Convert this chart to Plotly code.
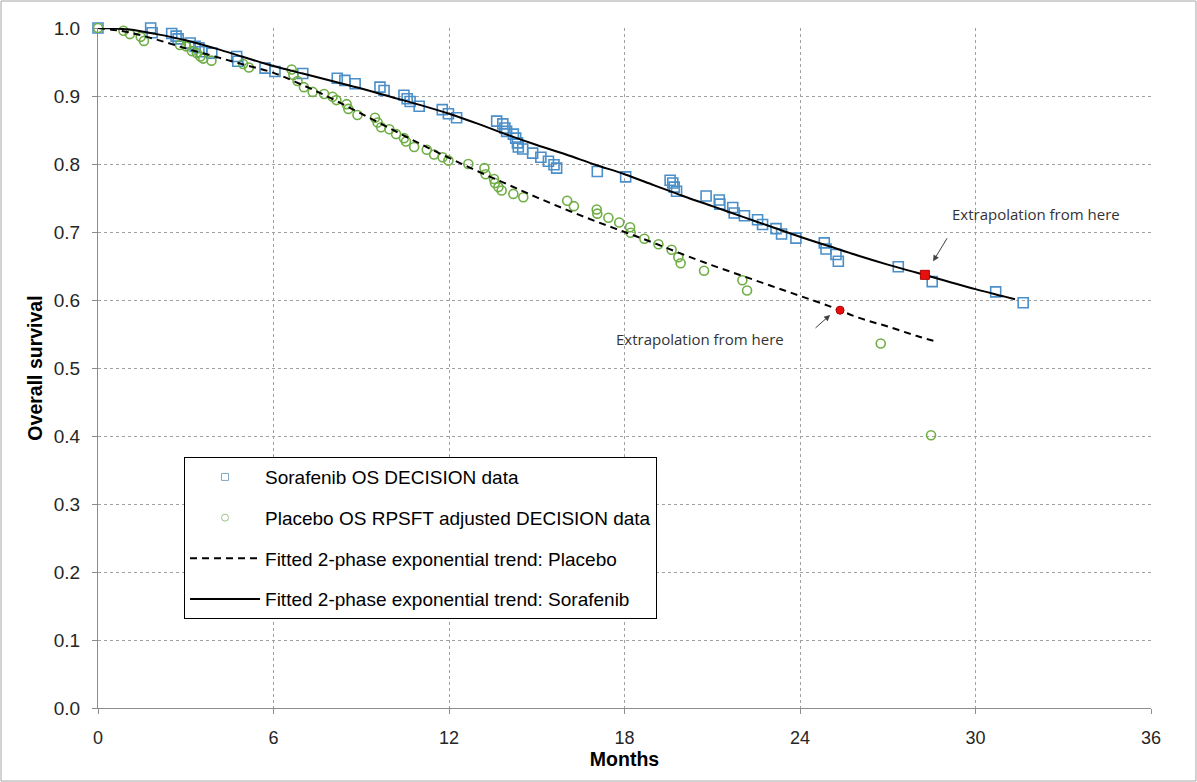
import plotly.graph_objects as go

# Observed overall survival, Sorafenib arm (months, proportion alive)
sor_months = [0.0, 1.80, 1.85, 2.52, 2.67, 2.74, 3.15, 3.32, 3.45, 3.55, 3.89, 4.74, 4.78,
              5.71, 6.05, 7.00, 8.18, 8.44, 8.79, 9.64, 9.78, 10.46, 10.57, 10.67, 10.98,
              11.77, 11.98, 12.26, 13.63, 13.84, 13.91, 13.97, 14.20, 14.28, 14.34, 14.37,
              14.52, 14.86, 15.14, 15.40, 15.59, 15.68, 17.07, 18.04, 19.56, 19.65, 19.70,
              19.78, 20.79, 21.24, 21.26, 21.70, 21.75, 22.10, 22.55, 22.72, 23.18, 23.37,
              23.86, 24.83, 24.89, 25.23, 25.31, 27.36, 28.52, 30.69, 31.63]
sor_surv = [1.000, 1.000, 0.993, 0.992, 0.988, 0.984, 0.978, 0.973, 0.971, 0.965, 0.963, 0.958,
            0.951, 0.941, 0.936, 0.933, 0.926, 0.923, 0.918, 0.913, 0.908, 0.901, 0.896, 0.892,
            0.885, 0.880, 0.874, 0.868, 0.863, 0.859, 0.853, 0.848, 0.844, 0.838, 0.831, 0.825,
            0.822, 0.816, 0.810, 0.804, 0.799, 0.794, 0.789, 0.781, 0.776, 0.772, 0.766, 0.760,
            0.753, 0.747, 0.741, 0.736, 0.728, 0.724, 0.718, 0.711, 0.705, 0.697, 0.691, 0.684,
            0.675, 0.667, 0.657, 0.649, 0.627, 0.612, 0.596]

# Observed overall survival, Placebo arm (RPSFT adjusted)
pla_months = [0.0, 0.87, 1.09, 1.46, 1.57, 2.80, 3.01, 3.21, 3.38, 3.50, 3.60, 3.88, 4.96,
              5.16, 6.62, 6.68, 6.82, 7.04, 7.34, 7.73, 8.02, 8.15, 8.50, 8.56, 8.87, 9.47,
              9.56, 9.68, 9.96, 10.19, 10.46, 10.53, 10.81, 11.24, 11.49, 11.78, 11.98, 12.66,
              13.21, 13.25, 13.54, 13.57, 13.69, 13.80, 14.20, 14.54, 16.04, 16.27, 17.05,
              17.07, 17.45, 17.82, 18.19, 18.21, 18.68, 19.16, 19.61, 19.84, 19.92, 20.72,
              22.03, 22.19, 26.76, 28.48]
pla_surv = [1.000, 0.996, 0.991, 0.987, 0.981, 0.975, 0.973, 0.966, 0.963, 0.958, 0.955, 0.952,
            0.947, 0.942, 0.939, 0.931, 0.922, 0.913, 0.906, 0.903, 0.899, 0.894, 0.888, 0.881,
            0.872, 0.868, 0.861, 0.854, 0.851, 0.844, 0.838, 0.833, 0.825, 0.821, 0.814, 0.810,
            0.805, 0.800, 0.794, 0.785, 0.778, 0.772, 0.766, 0.761, 0.756, 0.751, 0.746, 0.738,
            0.733, 0.727, 0.721, 0.714, 0.707, 0.699, 0.690, 0.682, 0.674, 0.663, 0.654, 0.643,
            0.629, 0.614, 0.536, 0.401]

# Fitted 2-phase exponential trends
sor_fit_months = [0, 1, 2, 3, 4, 5, 6, 7, 8, 9, 10, 11, 12, 13, 14, 15, 16, 17, 18, 19, 20,
                  21, 22, 23, 24, 25, 26, 27, 28, 29, 30, 31, 31.35]
sor_fit_surv = [1.000, 0.998, 0.991, 0.982, 0.970, 0.957, 0.944, 0.933, 0.922, 0.911, 0.899,
                0.887, 0.874, 0.859, 0.843, 0.828, 0.814, 0.799, 0.785, 0.769, 0.753, 0.738,
                0.723, 0.708, 0.693, 0.679, 0.665, 0.652, 0.640, 0.628, 0.616, 0.605, 0.601]

pla_fit_months = [0, 1, 2, 3, 4, 5, 6, 7, 8, 9, 10, 11, 12, 13, 14, 15, 16, 17, 18, 19, 20,
                  21, 22, 23, 24, 25, 26, 27, 28, 28.56]
pla_fit_surv = [1.000, 0.994, 0.983, 0.970, 0.958, 0.946, 0.934, 0.916, 0.896, 0.874, 0.852,
                0.830, 0.809, 0.789, 0.770, 0.751, 0.733, 0.716, 0.700, 0.684, 0.667, 0.651,
                0.636, 0.621, 0.606, 0.591, 0.574, 0.561, 0.547, 0.540]

# Points where extrapolation begins
sor_extrap_month, sor_extrap_surv = [28.27], [0.637]
pla_extrap_month, pla_extrap_surv = [25.37], [0.585]

x_ticks = [0, 6, 12, 18, 24, 30, 36]
y_ticks = [0.0, 0.1, 0.2, 0.3, 0.4, 0.5, 0.6, 0.7, 0.8, 0.9, 1.0]

BLUE = "#4A8FC9"
GREEN = "#6FAE45"
RED = "#E8100F"

fig = go.Figure()

# Data and fitted curves (legend entries are supplied by the key traces below)
fig.add_trace(go.Scatter(
    x=sor_months, y=sor_surv, mode="markers", showlegend=False, cliponaxis=False,
    marker=dict(symbol="square-open", size=10, color=BLUE, line=dict(width=1.6, color=BLUE)),
))
fig.add_trace(go.Scatter(
    x=pla_months, y=pla_surv, mode="markers", showlegend=False, cliponaxis=False,
    marker=dict(symbol="circle-open", size=9, color=GREEN, line=dict(width=1.6, color=GREEN)),
))
fig.add_trace(go.Scatter(
    x=pla_fit_months, y=pla_fit_surv, mode="lines", showlegend=False,
    line=dict(color="black", width=2, dash="7px,5px", shape="spline"),
))
fig.add_trace(go.Scatter(
    x=sor_fit_months, y=sor_fit_surv, mode="lines", showlegend=False,
    line=dict(color="black", width=2, shape="spline"),
))
fig.add_trace(go.Scatter(
    x=sor_extrap_month, y=sor_extrap_surv, mode="markers", showlegend=False,
    marker=dict(symbol="square", size=9, color=RED, line=dict(width=1, color="#B00000")),
))
fig.add_trace(go.Scatter(
    x=pla_extrap_month, y=pla_extrap_surv, mode="markers", showlegend=False,
    marker=dict(symbol="circle", size=8, color=RED, line=dict(width=1, color="#B00000")),
))

# Legend keys with small symbols
fig.add_trace(go.Scatter(
    x=[None], y=[None], mode="markers", name="Sorafenib OS DECISION data", legendgroup="a",
    marker=dict(symbol="square-open", size=7, color="#7FA7C4", line=dict(width=1, color="#7FA7C4")),
))
fig.add_trace(go.Scatter(
    x=[None], y=[None], mode="markers", name="Placebo OS RPSFT adjusted DECISION data",
    legendgroup="b",
    marker=dict(symbol="circle-open", size=7, color="#9CC487", line=dict(width=1, color="#9CC487")),
))
fig.add_trace(go.Scatter(
    x=[None], y=[None], mode="lines", name="Fitted 2-phase exponential trend: Placebo",
    legendgroup="c", line=dict(color="black", width=2, dash="7px,5px"),
))
fig.add_trace(go.Scatter(
    x=[None], y=[None], mode="lines", name="Fitted 2-phase exponential trend: Sorafenib",
    legendgroup="d", line=dict(color="black", width=2),
))

note_font = dict(family="Open Sans, Noto Sans, sans-serif", size=15, color="#333333")
fig.add_annotation(x=32.07, y=0.7265, text="Extrapolation from here", showarrow=False,
                   font=note_font)
fig.add_annotation(x=20.58, y=0.5426, text="Extrapolation from here", showarrow=False,
                   font=note_font)
fig.add_annotation(x=28.55, y=0.657, ax=29.06, ay=0.693, axref="x", ayref="y", text="",
                   showarrow=True, arrowhead=2, arrowsize=1.2, arrowwidth=1, arrowcolor="#404040")
fig.add_annotation(x=25.03, y=0.578, ax=24.48, ay=0.557, axref="x", ayref="y", text="",
                   showarrow=True, arrowhead=2, arrowsize=1.2, arrowwidth=1, arrowcolor="#404040")

# Chart-area border
fig.add_shape(type="rect", xref="paper", yref="paper",
              x0=-0.0921, x1=1.0427, y0=-0.1074, y1=1.0397,
              line=dict(color="#A6A6A6", width=1), fillcolor="rgba(0,0,0,0)", layer="below")

y_tick_font = dict(family="Liberation Sans, Arial, sans-serif", size=19, color="#262626")
x_tick_font = dict(family="Liberation Sans, Arial, sans-serif", size=18, color="#262626")
title_font = dict(family="Liberation Sans, Arial, sans-serif", size=19.5, color="black")

fig.update_layout(
    width=1197, height=782, autosize=False,
    margin=dict(l=98, r=46, t=28, b=74),
    paper_bgcolor="white", plot_bgcolor="white",
    font=dict(family="Liberation Sans, Arial, sans-serif"),
    showlegend=True,
    legend=dict(
        x=0.0817, y=0.369, xanchor="left", yanchor="top",
        bordercolor="black", borderwidth=1, bgcolor="white",
        font=dict(family="Liberation Sans, Arial, sans-serif", size=19, color="black"),
        itemwidth=70, tracegroupgap=13, traceorder="grouped",
    ),
    xaxis=dict(
        range=[0, 36], tickvals=x_ticks, ticktext=[str(v) for v in x_ticks],
        showgrid=True, gridcolor="#A0A0A0", griddash="3px,3px", gridwidth=1,
        zeroline=False, showline=True, linecolor="#8C8C8C", linewidth=1,
        ticks="outside", ticklen=5, tickcolor="#8C8C8C", tickfont=x_tick_font,
        ticklabelstandoff=8, automargin=False,
        title=dict(text="<b>Months</b>", font=title_font, standoff=5),
    ),
    yaxis=dict(
        range=[0, 1], tickvals=y_ticks, ticktext=[f"{v:.1f}" for v in y_ticks],
        showgrid=True, gridcolor="#A0A0A0", griddash="3px,3px", gridwidth=1,
        zeroline=False, showline=True, linecolor="#8C8C8C", linewidth=1,
        ticks="outside", ticklen=5, tickcolor="#8C8C8C", tickfont=y_tick_font,
        ticklabelstandoff=8, automargin=False,
        title=dict(text="<b>Overall survival</b>", font=title_font, standoff=5),
    ),
)

fig.write_html("out.html")
